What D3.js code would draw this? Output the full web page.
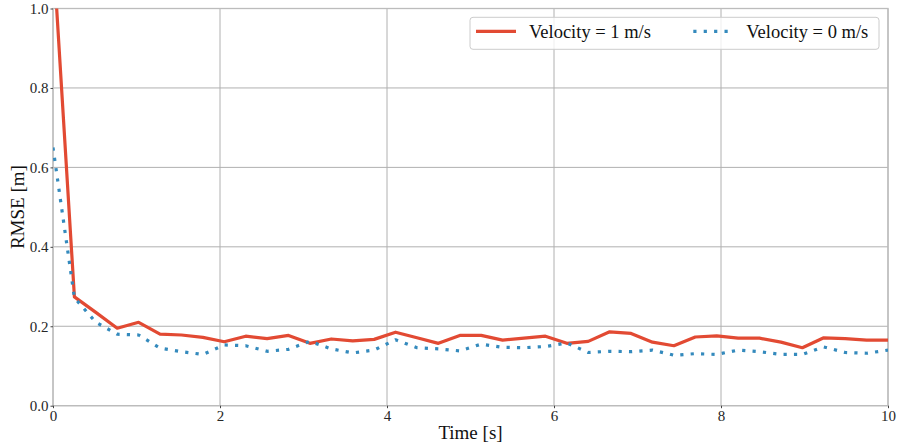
<!DOCTYPE html>
<head>
<meta charset="utf-8">
<title>RMSE over time</title>
<style>
body {
  margin: 0;
  padding: 0;
  background: #fff;
}
svg text {
  font-family: "Liberation Serif", "DejaVu Serif", serif;
}
.grid line {
  stroke: #b0b0b0;
  stroke-width: 1;
}
</style>
</head>
<body>
<svg id="viz" width="898" height="446"></svg>
<script src="https://d3js.org/d3.v7.min.js"></script>
<script>

// 40 samples from 0 to 10 s
var times = d3.range(40).map(function(k) { return k * 10 / 39 })

var velocity1 = [1.15, 0.274, 0.235, 0.195, 0.21, 0.18, 0.178, 0.172, 0.161, 0.175,
  0.169, 0.177, 0.157, 0.168, 0.163, 0.167, 0.185, 0.171, 0.157, 0.177,
  0.177, 0.165, 0.17, 0.175, 0.157, 0.162, 0.186, 0.182, 0.16, 0.151,
  0.173, 0.176, 0.17, 0.17, 0.16, 0.146, 0.171, 0.169, 0.165, 0.165]

var velocity0 = [0.65, 0.272, 0.21, 0.18, 0.178, 0.145, 0.136, 0.129, 0.153, 0.151,
  0.137, 0.142, 0.162, 0.143, 0.133, 0.14, 0.166, 0.146, 0.143, 0.138,
  0.155, 0.147, 0.146, 0.149, 0.158, 0.134, 0.137, 0.136, 0.14, 0.127,
  0.131, 0.129, 0.14, 0.136, 0.129, 0.129, 0.148, 0.134, 0.132, 0.14]

var xTicks = [0, 2, 4, 6, 8, 10]
var yTicks = [0.0, 0.2, 0.4, 0.6, 0.8, 1.0]

var series = [
  { label: 'Velocity = 1 m/s', values: velocity1, color: '#E24A33', dash: null },
  { label: 'Velocity = 0 m/s', values: velocity0, color: '#348ABD', dash: '3.2,7.2' }
]

var svg = d3.select('#viz')
var margin = { left: 53, right: 10, top: 8.5, bottom: 40.3 }
var width = +svg.attr('width') - margin.left - margin.right
var height = +svg.attr('height') - margin.top - margin.bottom

var x = d3.scaleLinear().domain([0, 10]).range([0, width])
var y = d3.scaleLinear().domain([0, 1]).range([height, 0])

var g = svg.append('g').attr('transform', 'translate(' + margin.left + ',' + margin.top + ')')

g.append('clipPath').attr('id', 'clip')
  .append('rect').attr('width', width).attr('height', height)

// grid
var grid = g.append('g').attr('class', 'grid')
grid.selectAll('.vx').data(xTicks).enter().append('line')
  .attr('x1', function(d) { return x(d) }).attr('x2', function(d) { return x(d) })
  .attr('y1', 0).attr('y2', height)
grid.selectAll('.hy').data(yTicks).enter().append('line')
  .attr('y1', function(d) { return y(d) }).attr('y2', function(d) { return y(d) })
  .attr('x1', 0).attr('x2', width)

// frame
g.append('rect')
  .attr('width', width).attr('height', height)
  .attr('fill', 'none').attr('stroke', '#bcbcbc').attr('stroke-width', 1.3)

// axes
var xAxis = g.append('g').attr('transform', 'translate(0,' + height + ')')
  .call(d3.axisBottom(x).tickValues(xTicks).tickSize(2.5).tickPadding(2).tickFormat(d3.format('d')))
var yAxis = g.append('g')
  .call(d3.axisLeft(y).tickValues(yTicks).tickSize(2.5).tickPadding(2).tickFormat(d3.format('.1f')))
xAxis.select('.domain').remove()
yAxis.select('.domain').remove()
g.selectAll('.tick line').attr('stroke', '#444')
g.selectAll('.tick text')
  .attr('font-family', '"Liberation Serif", serif')
  .attr('font-size', 15)
  .attr('fill', '#262626')

// lines
var line = d3.line()
  .x(function(d, i) { return x(times[i]) })
  .y(function(d) { return y(d) })

g.append('g').attr('clip-path', 'url(#clip)')
  .selectAll('path').data(series).enter().append('path')
  .attr('d', function(d) { return line(d.values) })
  .attr('fill', 'none')
  .attr('stroke', function(d) { return d.color })
  .attr('stroke-width', 3.2)
  .attr('stroke-dasharray', function(d) { return d.dash })
  .attr('stroke-linejoin', 'round')

// labels
svg.append('text')
  .attr('x', margin.left + width / 2).attr('y', 439)
  .attr('text-anchor', 'middle').attr('font-size', 19).attr('fill', '#111')
  .text('Time [s]')
svg.append('text')
  .attr('transform', 'translate(24,' + (margin.top + height / 2) + ') rotate(-90)')
  .attr('text-anchor', 'middle').attr('font-size', 19).attr('fill', '#111')
  .text('RMSE [m]')

// legend
var legend = svg.append('g').attr('transform', 'translate(470,17.3)')
legend.append('rect')
  .attr('width', 409).attr('height', 32).attr('rx', 3)
  .attr('fill', 'rgba(255,255,255,0.8)').attr('stroke', '#cccccc').attr('stroke-width', 1)

var item = legend.selectAll('.item').data(series).enter().append('g')
  .attr('transform', function(d, i) { return 'translate(' + (6 + i * 217.3) + ',0)' })
item.append('line')
  .attr('x1', 0).attr('x2', 40).attr('y1', 14).attr('y2', 14)
  .attr('stroke', function(d) { return d.color })
  .attr('stroke-width', 3.2)
  .attr('stroke-dasharray', function(d) { return d.dash })
item.append('text')
  .attr('x', 53).attr('y', 21)
  .attr('font-size', 18.5).attr('fill', '#111')
  .text(function(d) { return d.label })

</script>
</body>
</html>
